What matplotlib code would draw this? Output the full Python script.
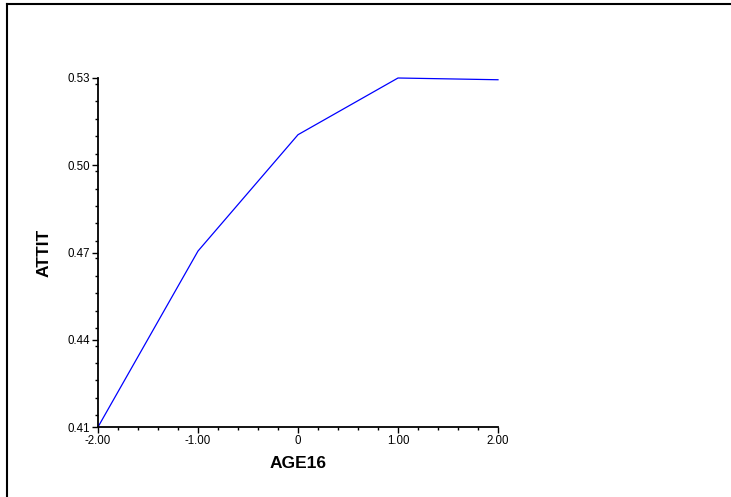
import matplotlib
matplotlib.use("Agg")
import matplotlib.pyplot as plt
from matplotlib.ticker import MultipleLocator, FixedLocator
from matplotlib.lines import Line2D

age16 = [-2.0, -1.0, 0.0, 1.0, 2.0]
attit = [0.410, 0.4705, 0.5105, 0.5300, 0.5294]
x_ticks = [-2.0, -1.0, 0.0, 1.0, 2.0]
x_tick_labels = ["-2.00", "-1.00", "0", "1.00", "2.00"]
y_ticks = [0.41, 0.44, 0.47, 0.50, 0.53]
y_tick_labels = ["0.41", "0.44", "0.47", "0.50", "0.53"]

plt.rcParams['font.family'] = ['Liberation Sans', 'DejaVu Sans']

W, H = 731, 497
fig = plt.figure(figsize=(W / 100, H / 100), dpi=100)
ax = fig.add_axes([98 / W, (H - 427) / H, 400 / W, 349 / H])

ax.plot(age16, attit, color='#0000ff', lw=0.9, clip_on=False)
ax.set_xlim(-2, 2)
ax.set_ylim(0.41, 0.53)

ax.xaxis.set_major_locator(FixedLocator(x_ticks))
ax.set_xticklabels(x_tick_labels)
ax.xaxis.set_minor_locator(MultipleLocator(0.2))
ax.yaxis.set_major_locator(FixedLocator(y_ticks))
ax.set_yticklabels(y_tick_labels)
ax.yaxis.set_minor_locator(MultipleLocator(0.006))

for s in ['top', 'right']:
    ax.spines[s].set_visible(False)
for s in ['left', 'bottom']:
    ax.spines[s].set_linewidth(1.3)

ax.tick_params(which='major', length=4, width=1, labelsize=8.3, pad=1.5, direction='out')
ax.tick_params(which='minor', length=2.5, width=1, direction='out')

ax.set_xlabel("AGE16", fontsize=12.5, fontweight='bold', labelpad=6.5)
ax.set_ylabel("ATTIT", fontsize=12.5, fontweight='bold', labelpad=11.5)

# frame lines (top and left of the cropped page border)
fig.add_artist(Line2D([6.5 / W, 1.0], [1 - 3.5 / H, 1 - 3.5 / H], transform=fig.transFigure, color='black', lw=1.5))
fig.add_artist(Line2D([6.5 / W, 6.5 / W], [0, 1 - 3.5 / H], transform=fig.transFigure, color='black', lw=1.5))

fig.savefig("out.png", dpi=100)
